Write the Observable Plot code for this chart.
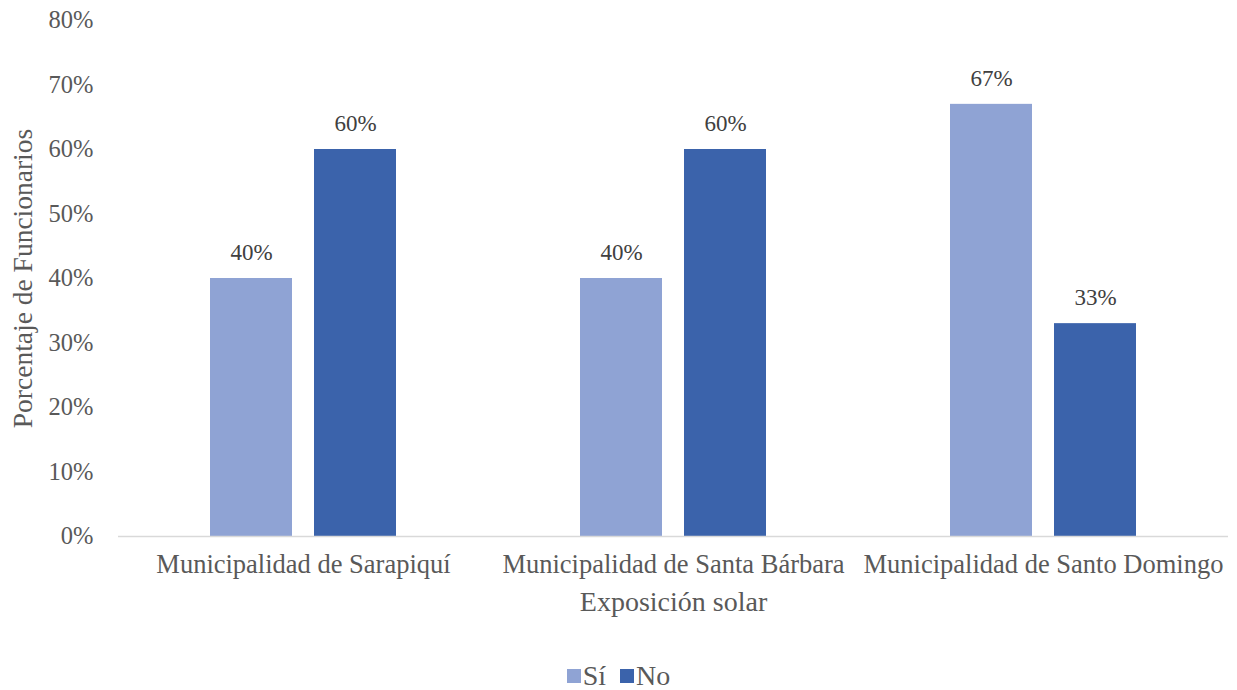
<!DOCTYPE html>
<html>
<head>
<meta charset="utf-8">
<script src="https://cdn.jsdelivr.net/npm/d3@7"></script>
<script src="https://cdn.jsdelivr.net/npm/@observablehq/plot@0.6"></script>
</head>
<body style="margin:0;padding:0;background:#fff;font-family:'Liberation Serif';color:#595959">
<div id="chart"></div>
<div id="legend" style="display:flex;justify-content:center;align-items:center;gap:14px;font-size:28px;margin-top:40px;font-family:'Liberation Serif';color:#595959"></div>
<script>
const municipalidades = ["Municipalidad de Sarapiquí", "Municipalidad de Santa Bárbara", "Municipalidad de Santo Domingo"];
const series = ["Sí", "No"];
const valoresSi = [40, 40, 67];
const valoresNo = [60, 60, 33];
const colores = ["#8FA3D4", "#3B63AB"];
const yTicks = [0, 10, 20, 30, 40, 50, 60, 70, 80];

const data = [];
municipalidades.forEach((m, i) => {
  data.push({muni: m, serie: series[0], value: valoresSi[i]});
  data.push({muni: m, serie: series[1], value: valoresNo[i]});
});

const font = "Liberation Serif";
const gray = "#595959";

const chart = Plot.plot({
  width: 1237,
  height: 620,
  marginLeft: 118,
  marginRight: 9,
  marginTop: 20,
  marginBottom: 84,
  style: { fontFamily: font, color: gray, background: "#fff" },
  fx: { domain: municipalidades, padding: 0 },
  x: { domain: series, paddingInner: 0.21, paddingOuter: 0.867, axis: null },
  y: { domain: [0, 80] },
  color: { domain: series, range: colores },
  marks: [
    Plot.barY(data, { fx: "muni", x: "serie", y: "value", fill: "serie" }),
    Plot.ruleY([0], { stroke: "#d9d9d9", strokeWidth: 1.5 }),
    Plot.text(data, { fx: "muni", x: "serie", y: "value", text: d => d.value + "%", dy: -26, fontSize: 23, fill: "#404040", fontFamily: font }),
    Plot.axisY({ ticks: yTicks, tickSize: 0, tickPadding: 25, tickFormat: d => d + "%", fontSize: 24.5, fill: gray, fontFamily: font, label: null }),
    Plot.axisY({ ticks: [], tickSize: 0, fontSize: 27.5, fill: gray, fontFamily: font,
      label: "Porcentaje de Funcionarios", labelAnchor: "center", labelOffset: 106, labelArrow: "none" }),
    Plot.axisFx({ anchor: "bottom", tickSize: 0, tickPadding: 18, fontSize: 26.5, fill: gray, fontFamily: font, label: null }),
    Plot.axisFx({ anchor: "bottom", ticks: [], tickSize: 0, fontSize: 28, fill: gray, fontFamily: font,
      label: "Exposición solar", labelAnchor: "center", labelOffset: 74, labelArrow: "none" })
  ]
});
document.getElementById("chart").appendChild(chart);

const legend = document.getElementById("legend");
series.forEach((s, i) => {
  const item = document.createElement("span");
  item.style.cssText = "display:flex;align-items:center;gap:2px";
  const sw = document.createElement("span");
  sw.style.cssText = "width:14px;height:14px;display:inline-block;background:" + colores[i];
  const t = document.createElement("span");
  t.textContent = s;
  item.appendChild(sw);
  item.appendChild(t);
  legend.appendChild(item);
});
</script>
</body>
</html>
